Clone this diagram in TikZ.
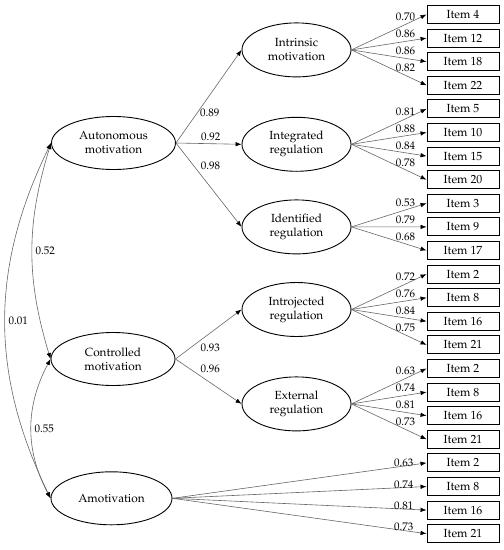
\documentclass[tikz,border=0pt]{standalone}
\usepackage[T1]{fontenc}
\usepackage{mathpazo}
\usetikzlibrary{positioning, arrows.meta, shapes.geometric}

\begin{document}
\begin{tikzpicture}[x=1pt, y=-1pt,
    every node/.style={font=\fontsize{11.8}{14}\selectfont},
    latent/.style={ellipse, draw, line width=0.9pt, minimum width=124pt, minimum height=53pt, align=center, inner sep=0pt},
    factor/.style={latent, minimum width=109pt, minimum height=54pt},
    item/.style={rectangle, draw, line width=0.9pt, minimum width=72pt, minimum height=18pt, inner sep=0pt},
    arr/.style={-{Latex[length=6pt, width=4.5pt, color=black]}, draw=black!60, line width=0.6pt},
    cov/.style={{Latex[length=6pt, width=4.5pt, color=black]}-{Latex[length=6pt, width=4.5pt, color=black]}, draw=black!60, line width=0.6pt},
    lbl/.style={inner sep=1pt, font=\fontsize{11}{13}\selectfont},
  ]
    \useasboundingbox (0,0) rectangle (504,550);

    % second-order factors
    \node[latent] (auto) at (113.5,143) {Autonomous\\motivation};
    \node[latent] (ctrl) at (113,359) {Controlled\\motivation};
    \node[latent, minimum width=121pt] (amot) at (111.5,498.3) {Amotivation};

    % first-order factors
    \node[factor] (intr) at (296.5,49.9) {Intrinsic\\motivation};
    \node[factor] (integ) at (296.5,144.3) {Integrated\\regulation};
    \node[factor] (ident) at (296.5,226.9) {Identified\\regulation};
    \node[factor] (introj) at (296.5,309.5) {Introjected\\regulation};
    \node[factor] (ext) at (296.5,403.9) {External\\regulation};

    \draw[arr] (auto.east) -- (intr.west) node[lbl, pos=0.32, right=2pt] {0.89};
    \draw[arr] (auto.east) -- (integ.west) node[lbl, pos=0.53, above=2pt] {0.92};
    \draw[arr] (auto.east) -- (ident.west) node[lbl, pos=0.27, right=6pt] {0.98};
    \draw[arr] (ctrl.east) -- (introj.west) node[lbl, pos=0.35, below right=1pt] {0.93};
    \draw[arr] (ctrl.east) -- (ext.west) node[lbl, pos=0.35, above right=1pt] {0.96};

    % covariances
    \draw[cov] (auto.west) to[bend right=17] node[lbl, right=2pt] {0.52} (ctrl.west);
    \draw[cov] (auto.west) to[bend right=26] node[lbl, right=2pt] {0.01} (amot.west);
    \draw[cov] (ctrl.west) to[bend right=28] node[lbl, right=2pt] {0.55} (amot.west);

    % items
    \foreach \k/\num/\val/\src in {0/4/0.70/intr, 1/12/0.86/intr, 2/18/0.86/intr, 3/22/0.82/intr,
        4/5/0.81/integ, 5/10/0.88/integ, 6/15/0.84/integ, 7/20/0.78/integ,
        8/3/0.53/ident, 9/9/0.79/ident, 10/17/0.68/ident,
        11/2/0.72/introj, 12/8/0.76/introj, 13/16/0.84/introj, 14/21/0.75/introj,
        15/2/0.63/ext, 16/8/0.74/ext, 17/16/0.81/ext, 18/21/0.73/ext} {
      \node[item] (item\k) at (463,14.5+23.6*\k) {Item \num};
      \draw[arr] (\src.east) -- (item\k.west) node[lbl, pos=0.72, above=2pt] {\val};
    }
    \foreach \k/\num/\val in {19/2/0.63, 20/8/0.74, 21/16/0.81, 22/21/0.73} {
      \node[item] (item\k) at (463,14.5+23.6*\k) {Item \num};
      \draw[arr] (amot.east) -- (item\k.west) node[lbl, pos=0.91, above=-2pt] {\val};
    }
\end{tikzpicture}
\end{document}
